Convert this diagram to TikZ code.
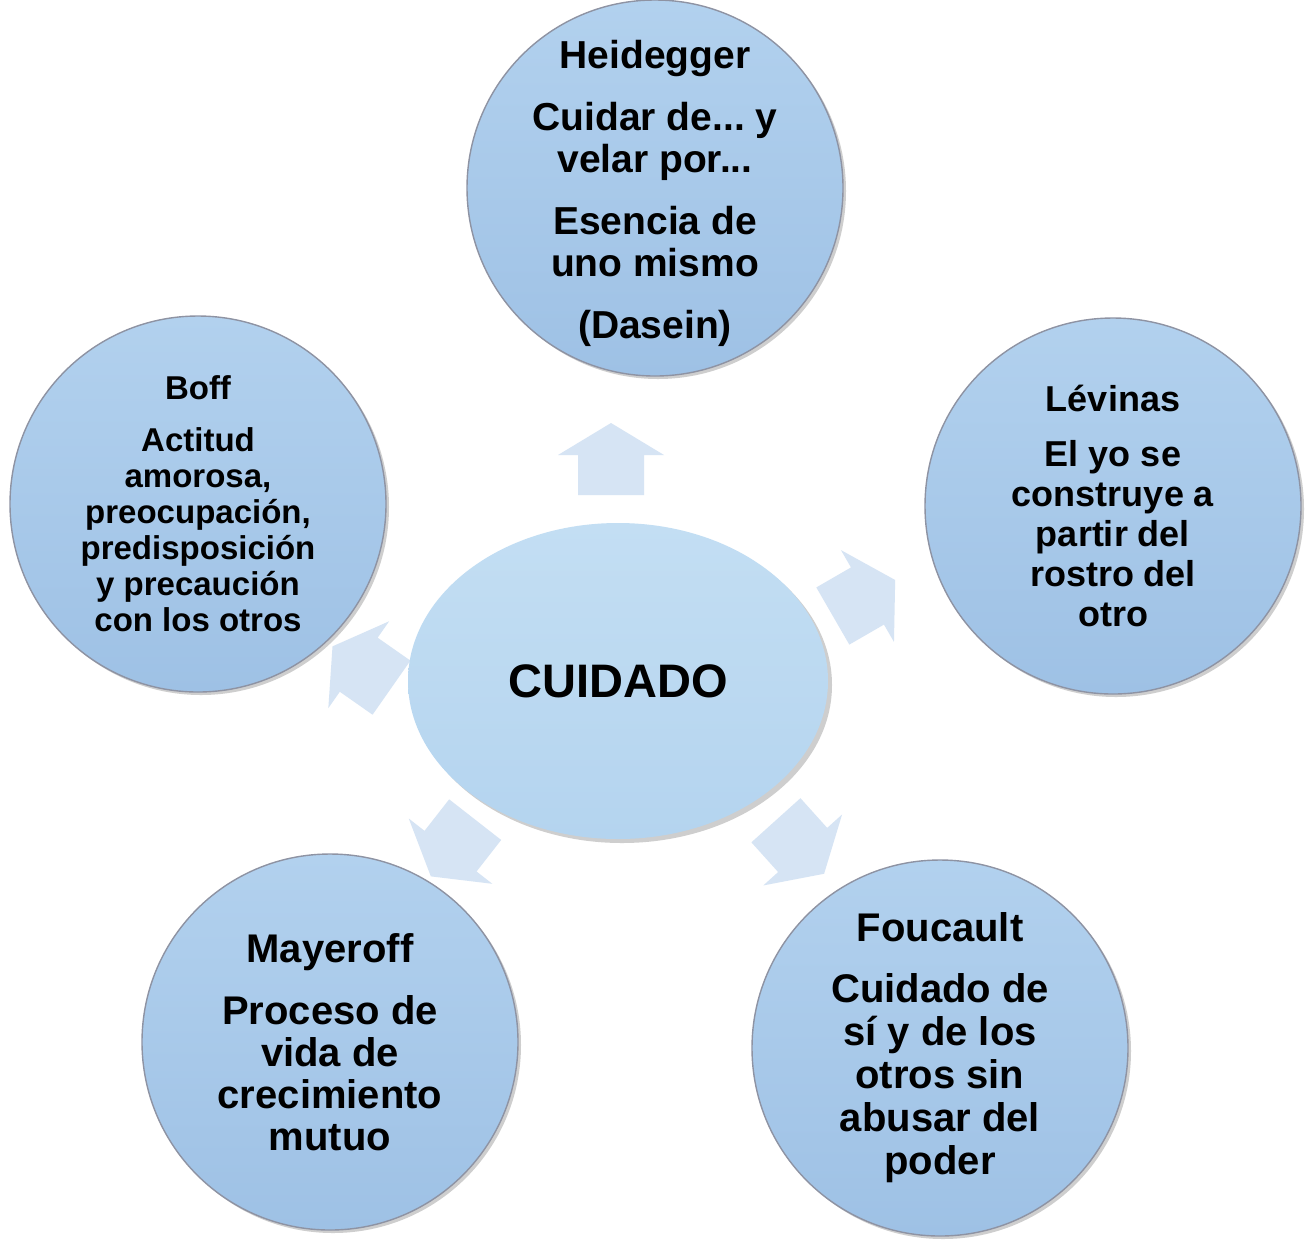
\documentclass[tikz,border=0pt]{standalone}
\usepackage{fontspec}
\setmainfont{Liberation Sans}
\usetikzlibrary{shapes.geometric,shadows}
\frenchspacing
\definecolor{circtop}{HTML}{B2D1EE}
\definecolor{circbot}{HTML}{9EC1E5}
\definecolor{centtop}{HTML}{C3DEF3}
\definecolor{centbot}{HTML}{B4D4EF}
\definecolor{arrowfill}{HTML}{D6E4F4}
\definecolor{edgegray}{HTML}{8E93A3}
\tikzset{
  sat/.style={circle, minimum size=188pt, inner sep=0pt, draw=edgegray, line width=0.7pt,
    top color=circtop, bottom color=circbot, align=center, text=black,
    drop shadow={shadow xshift=1.5pt, shadow yshift=-1.5pt, opacity=0.35, fill=black!55}},
  sattext/.style={align=center, text=black, inner sep=0pt},
  core/.style={ellipse, minimum width=210pt, minimum height=158pt, inner sep=0pt,
    top color=centtop, bottom color=centbot, text=black,
    drop shadow={shadow xshift=2pt, shadow yshift=-2pt, opacity=0.35, fill=black!55},
    font=\fontsize{23.5}{26}\selectfont\bfseries},
  blockarrow/.style={fill=arrowfill},
}
\begin{document}
\begin{tikzpicture}[x=0.5pt,y=-0.5pt]
\useasboundingbox[fill=white] (0,0) rectangle (1306,1239);

% block arrows
\foreach \px/\py/\ang/\nm in {611/459/90/atop, 864/598/30/aright, 800/847/-48/abr, 453/848/-128/abl, 362/667/145/aleft}{
  \coordinate (\nm) at (\px,\py);
  \fill[blockarrow, shift={(\nm)}, rotate=\ang]
    (-36,-33) -- (4,-33) -- (4,-53) -- (36,0) -- (4,53) -- (4,33) -- (-36,33) -- cycle;
}

\node[core] (center) at (618,681) {CUIDADO};

\node[sat] (heid) at (655,188) {};
\node[sattext, font=\fontsize{19.5}{21}\selectfont\bfseries] (heidtext) at (655,193)
  {Heidegger\\[10pt]Cuidar de... y\\velar por...\\[10pt]Esencia de\\uno mismo\\[10pt](Dasein)};

\node[sat, font=\fontsize{18}{20}\selectfont\bfseries] (lev) at (1113,506)
  {L\'evinas\\[7.5pt]El yo se\\construye a\\partir del\\rostro del\\otro};

\node[sat, font=\fontsize{20}{21.5}\selectfont\bfseries] (fou) at (940,1048)
  {Foucault\\[9pt]Cuidado de\\sí y de los\\otros sin\\abusar del\\poder};

\node[sat, font=\fontsize{20}{21}\selectfont\bfseries] (may) at (330,1042)
  {Mayeroff\\[10pt]Proceso de\\vida de\\crecimiento\\mutuo};

\node[sat, font=\fontsize{16.5}{18}\selectfont\bfseries] (boff) at (198,504)
  {Boff\\[8pt]Actitud\\amorosa,\\preocupación,\\predisposición\\y precaución\\con los otros};
\end{tikzpicture}
\end{document}
